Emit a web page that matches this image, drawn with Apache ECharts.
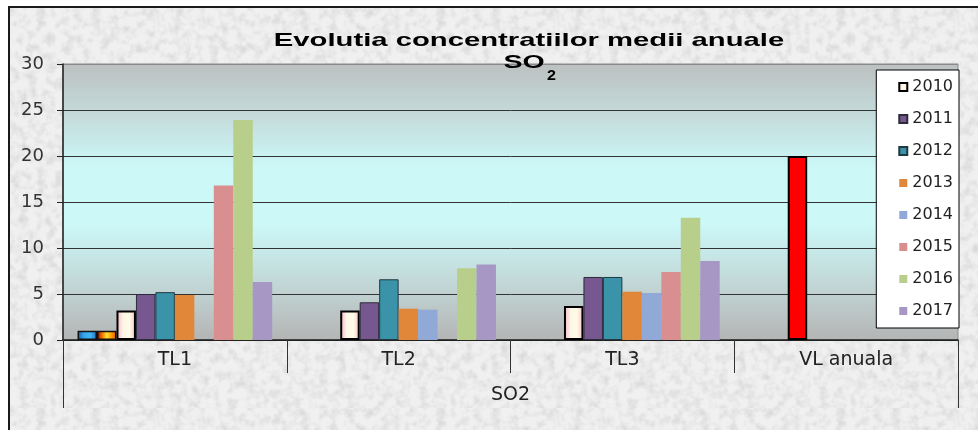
<!DOCTYPE html>
<html>
<head>
<meta charset="utf-8">
<script src="https://cdn.jsdelivr.net/npm/echarts@6/dist/echarts.min.js"></script>
<style>
  html, body { margin: 0; padding: 0; background: #ffffff; }
  #wrap { position: relative; width: 978px; height: 430px; overflow: hidden; }
  #frame { position: absolute; left: 8px; top: 6px; width: 980px; height: 430px;
           border-left: 2px solid #1a1a1a; border-top: 2px solid #1a1a1a; background-color: #e6e6e6; }
  #main { position: absolute; left: 0; top: 0; width: 978px; height: 430px; }
</style>
</head>
<body>
<div id="wrap">
  <div id="frame"></div>
  <div id="main"></div>
</div>
<script>
// ---- data ----
const categories = ['TL1', 'TL2', 'TL3', 'VL anuala'];
const groupLabels = ['SO2'];
const legendYears = ['2010', '2011', '2012', '2013', '2014', '2015', '2016', '2017'];
const extraA = [1.0, null, null, null];
const extraB = [1.0, null, null, null];
const v2010 = [3.2, 3.2, 3.7, 20];
const v2011 = [5.0, 4.1, 6.85, null];
const v2012 = [5.2, 6.6, 6.85, null];
const v2013 = [4.9, 3.4, 5.25, null];
const v2014 = [null, 3.3, 5.1, null];
const v2015 = [16.8, null, 7.4, null];
const v2016 = [23.9, 7.8, 13.3, null];
const v2017 = [6.3, 8.2, 8.6, null];
const yMin = 0, yMax = 30, yStep = 5;
const titleLine1 = 'Evolutia concentratiilor medii anuale';
const titleLine2 = 'SO';
const titleSub = '2';

// ---- textured background ----
const noise = "data:image/svg+xml;utf8,<svg xmlns='http://www.w3.org/2000/svg' width='400' height='400'>" +
  "<filter id='f' x='0' y='0' width='1' height='1'><feTurbulence type='fractalNoise' baseFrequency='0.11' numOctaves='3' seed='4'/>" +
  "<feColorMatrix values='0 0 0 0 0.55  0 0 0 0 0.55  0 0 0 0 0.55  1.1 0 0 0 -0.45'/></filter>" +
  "<rect x='0' y='0' width='400' height='400' fill='%23f0f0f0'/><rect x='0' y='0' width='400' height='400' filter='url(%23f)'/></svg>";
document.getElementById('frame').style.backgroundImage = 'url("' + noise + '")';

const FONT = 'DejaVu Sans';
function hgrad(stops) {
  return { type: 'linear', x: 0, y: 0, x2: 1, y2: 0,
    colorStops: stops.map((c, i) => ({ offset: i / (stops.length - 1), color: c })) };
}

const yearStyles = {
  '2010': { color: hgrad(['#f2b4c4', '#fff6e6', '#fffbe8', '#f6c4c8']), borderColor: '#000', borderWidth: 2 },
  '2011': { color: '#76578f', borderColor: '#2b2b3b', borderWidth: 1 },
  '2012': { color: '#3a93a8', borderColor: '#1f3a40', borderWidth: 1 },
  '2013': { color: '#e0873a' },
  '2014': { color: '#90a9d6' },
  '2015': { color: '#d98f90' },
  '2016': { color: '#b8cf8b' },
  '2017': { color: '#a697c5' }
};
const yearValues = { '2010': v2010, '2011': v2011, '2012': v2012, '2013': v2013,
  '2014': v2014, '2015': v2015, '2016': v2016, '2017': v2017 };

const series = [
  { name: 'A', type: 'bar', data: extraA, barGap: 0, barCategoryGap: '13%',
    itemStyle: { color: hgrad(['#1d58a0', '#36a8ec', '#40b4f4', '#2070bc']), borderColor: '#111', borderWidth: 1.5 } },
  { name: 'B', type: 'bar', data: extraB, barGap: 0, barCategoryGap: '13%',
    itemStyle: { color: hgrad(['#9a0c00', '#f07000', '#ffe030', '#ff9a00', '#e05a00']), borderColor: '#111', borderWidth: 1.5 } }
];
legendYears.forEach(y => {
  let data = yearValues[y];
  if (y === '2010') {
    data = data.map((v, i) => i === 3 ? { value: v, itemStyle: { color: '#ff0000' } } : v);
  }
  series.push({ name: y, type: 'bar', data: data, barGap: 0, barCategoryGap: '13%', itemStyle: yearStyles[y] });
});

const chart = echarts.init(document.getElementById('main'), null, { renderer: 'canvas' });
chart.setOption({
  backgroundColor: 'transparent',
  animation: false,
  grid: {
    left: 63, right: 20, top: 64, bottom: 90, show: true, borderColor: '#8a8a8a', borderWidth: 1,
    backgroundColor: { type: 'linear', x: 0, y: 0, x2: 0, y2: 1, colorStops: [
      { offset: 0, color: '#bcc0c0' }, { offset: 0.18, color: '#c4dada' }, { offset: 0.38, color: '#ccf8f8' },
      { offset: 0.58, color: '#ccf8f8' }, { offset: 0.8, color: '#c2d6d6' }, { offset: 1, color: '#b4b4b4' } ] }
  },
  graphic: [
    { type: 'text', x: 529, y: 41, scaleX: 1.54, z: 100,
      style: { text: titleLine1, font: 'bold 19px "Liberation Sans", Arial', fill: '#000',
               textAlign: 'center', textVerticalAlign: 'middle' } },
    { type: 'text', x: 524, y: 63, scaleX: 1.5, z: 100,
      style: { text: titleLine2, font: 'bold 19px "Liberation Sans", Arial', fill: '#000',
               textAlign: 'center', textVerticalAlign: 'middle' } },
    { type: 'text', x: 547, y: 76, scaleX: 1.15, z: 100,
      style: { text: titleSub, font: 'bold 14px "Liberation Sans", Arial', fill: '#000',
               textAlign: 'left', textVerticalAlign: 'middle' } }
  ],
  legend: {
    data: legendYears, orient: 'vertical', right: 19, top: 70,
    itemWidth: 8, itemHeight: 8, itemGap: 14, icon: 'rect',
    padding: [8, 6, 8, 22], backgroundColor: '#ffffff', borderColor: '#000', borderWidth: 1,
    textStyle: { fontFamily: FONT, fontSize: 16, color: '#222', lineHeight: 18 },
    selectedMode: false
  },
  xAxis: [
    { type: 'category', data: categories, position: 'bottom',
      axisLine: { lineStyle: { color: '#222', width: 1.5 } },
      axisTick: { show: true, interval: 0, length: 33, lineStyle: { color: '#333' } },
      axisLabel: { fontFamily: FONT, fontSize: 19, color: '#222', margin: 11, interval: 0 } },
    { type: 'category', data: groupLabels, position: 'bottom',
      axisLine: { show: false },
      axisTick: { show: true, interval: 0, length: 68, lineStyle: { color: '#333' } },
      axisLabel: { fontFamily: FONT, fontSize: 19, color: '#222', margin: 46 } }
  ],
  yAxis: {
    type: 'value', min: yMin, max: yMax, interval: yStep,
    axisLine: { show: true, lineStyle: { color: '#222', width: 1.5 } },
    axisTick: { show: true, length: 6, lineStyle: { color: '#222' } },
    axisLabel: { fontFamily: FONT, fontSize: 18, color: '#333', margin: 19 },
    splitLine: { show: true, lineStyle: { color: ['#222', '#333', '#333', '#333', '#333', '#333', '#8a8a8a'], width: 1 } }
  },
  series: series
});
</script>
</body>
</html>
